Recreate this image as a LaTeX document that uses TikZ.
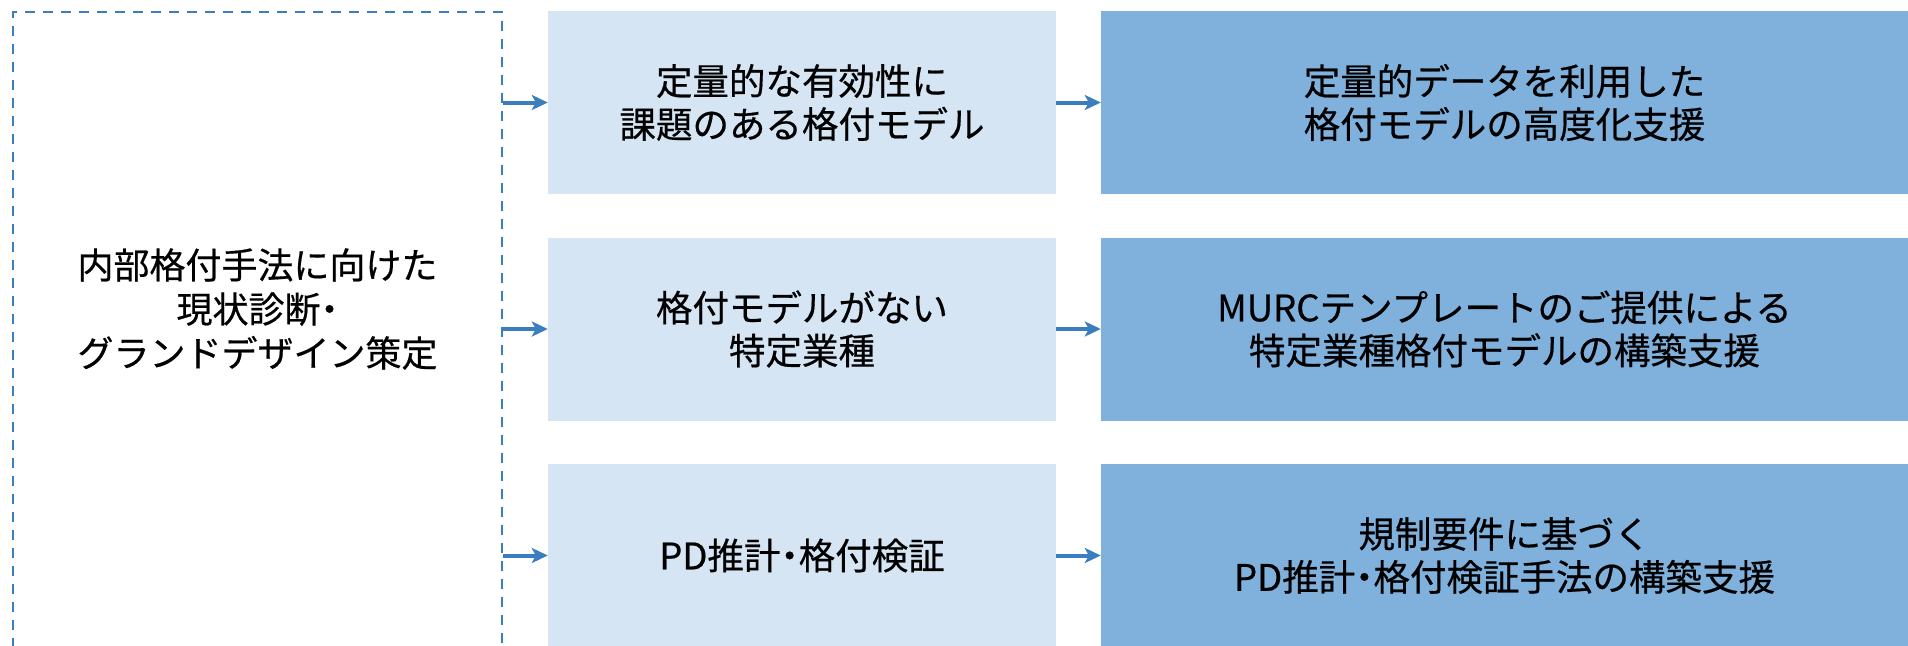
\documentclass[tikz,border=0pt]{standalone}
\usepackage{fontspec}
\setmainfont{Noto Sans CJK JP}[FakeBold=0.5]
\newfontfamily\paltfont{Noto Sans CJK JP}[FakeBold=0.5, RawFeature=+palt]
\newcommand{\nakaguro}{{\paltfont ・}}
\usetikzlibrary{arrows.meta}
\definecolor{lightbox}{HTML}{D5E5F3}
\definecolor{darkbox}{HTML}{7FB1DC}
\definecolor{linecol}{HTML}{3A7EC0}
\tikzset{
  midbox/.style={fill=lightbox, draw=none, minimum width=508pt, minimum height=183pt, inner sep=0pt, align=center, font=\fontsize{36.5pt}{43pt}\selectfont},
  rightbox/.style={fill=darkbox, draw=none, minimum width=807pt, minimum height=183pt, inner sep=0pt, align=center, font=\fontsize{36.5pt}{43pt}\selectfont},
  dashbox/.style={draw=linecol, line width=2.9pt, dash pattern=on 10pt off 8pt, minimum width=489pt, minimum height=700pt, inner sep=0pt},
  lefttext/.style={align=center, inner sep=0pt, font=\fontsize{36pt}{44pt}\selectfont},
  arr/.style={draw=linecol, line width=4pt, -{Stealth[length=16pt, width=15pt, inset=4pt]}}
}
\begin{document}
\begin{tikzpicture}[x=1pt, y=-1pt]
\useasboundingbox (0,0) rectangle (1908,645);
\clip (0,0) rectangle (1908,645);
\node[dashbox] (L) at (257.5,362) {};
\node[lefttext] (Lt) at (257.5,309) {内部格付手法に向けた\\現状診断\nakaguro\\グランドデザイン策定};
\node[midbox] (m1) at (802,102.5) {定量的な有効性に\\課題のある格付モデル};
\node[midbox] (m2) at (802,329) {格付モデルがない\\特定業種};
\node[midbox] (m3) at (802,555.5) {PD推計\nakaguro 格付検証};
\node[rightbox] (r1) at (1504.5,102.5) {定量的データを利用した\\格付モデルの高度化支援};
\node[rightbox] (r2) at (1504.5,329) {MURCテンプレートのご提供による\\特定業種格付モデルの構築支援};
\node[rightbox] (r3) at (1504.5,555.5) {規制要件に基づく\\PD推計\nakaguro 格付検証手法の構築支援};
\draw[arr] (L.east |- m1.west) -- (m1.west);
\draw[arr] (L.east |- m2.west) -- (m2.west);
\draw[arr] (L.east |- m3.west) -- (m3.west);
\draw[arr] (m1.east) -- (r1.west);
\draw[arr] (m2.east) -- (r2.west);
\draw[arr] (m3.east) -- (r3.west);
\end{tikzpicture}
\end{document}
